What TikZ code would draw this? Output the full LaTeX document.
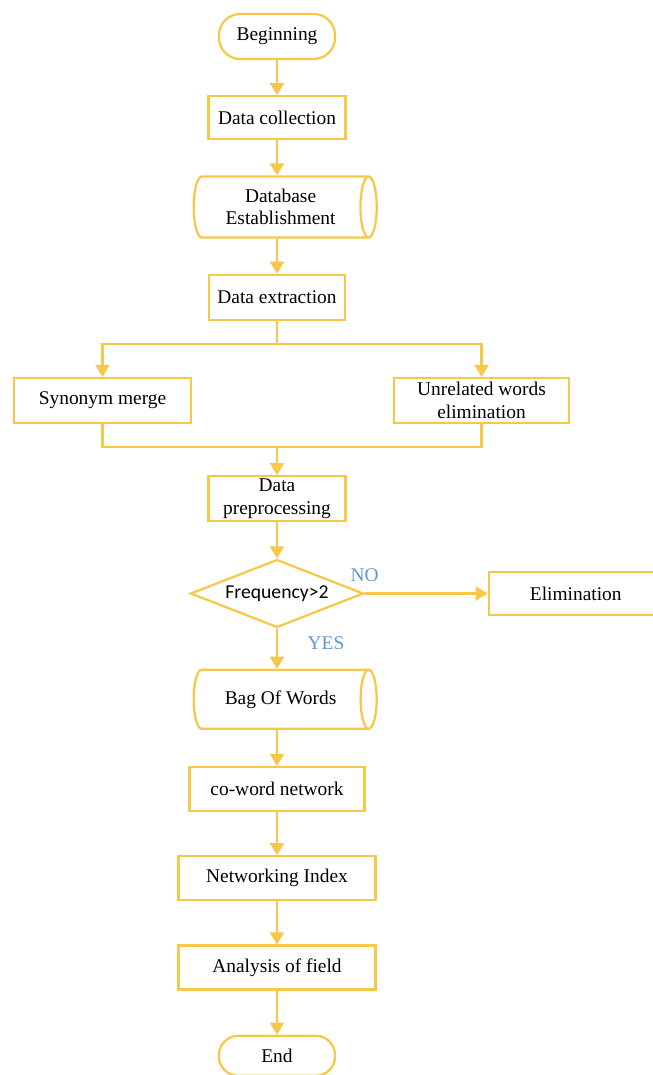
\documentclass[tikz,border=0pt]{standalone}
\usepackage{fontspec}
\setmainfont{Liberation Serif}
\newfontfamily\calfont{Carlito}
\usetikzlibrary{positioning,arrows.meta,shapes.geometric}
\definecolor{flowgold}{RGB}{246,200,72}
\definecolor{flowblue}{RGB}{96,152,205}

\begin{document}
\begin{tikzpicture}[node distance=0.875cm,
  every node/.style={font=\fontsize{13.8}{16}\selectfont},
  box/.style={rectangle,draw=flowgold,line width=1.6pt,inner sep=0pt,align=center,minimum height=1.125cm},
  term/.style={box,rounded corners=0.53cm,minimum width=2.9cm},
  store/.style={cylinder,draw=flowgold,line width=1.6pt,inner sep=0pt,align=center,minimum height=4.575cm},
  decide/.style={diamond,draw=flowgold,line width=1.6pt,inner sep=0pt,aspect=2.5,minimum width=4.325cm,minimum height=1.7cm,font=\calfont\fontsize{14}{16}\selectfont},
  arr/.style={draw=flowgold,line width=1.6pt,-{Triangle[width=0.35cm,length=0.3cm]}},
  link/.style={draw=flowgold,line width=1.6pt},
  lbl/.style={text=flowblue,inner sep=0pt}]
  \useasboundingbox (0,0) rectangle (16.3,-26.875);
  % main column
  \node[term] (begin) at (6.925,-0.9125) {Beginning};
  \node[box,below=of begin,minimum width=3.425cm,minimum height=1.075cm] (collect) {Data collection};
  \node[store,below=of collect,minimum width=1.525cm,aspect=0.45,xshift=0.09cm] (dbase) {Database\\Establishment};
  \node[box,below=of dbase.south -| collect,minimum width=3.4cm] (extract) {Data extraction};
  \coordinate[below=0.575cm of extract] (split);
  \node[box,below=1.4cm of extract,xshift=-4.3625cm,minimum width=4.425cm] (synonym) {Synonym merge};
  \node[box,below=1.4cm of extract,xshift=5.1125cm,minimum width=4.375cm] (unrelated) {Unrelated words\\elimination};
  \coordinate[below=0.575cm of synonym.south -| extract] (merge);
  \node[box,below=0.7cm of merge,minimum width=3.425cm] (preproc) {Data\\preprocessing};
  \node[decide,below=0.9cm of preproc] (freq) {Frequency>2};
  \node[box,right=3.075cm of freq,minimum width=4.35cm,minimum height=1.075cm] (elim) {Elimination};
  \node[lbl,above=0.28cm of freq.east] (no) {NO};
  \node[lbl,below=0.2cm of freq.south,xshift=1.225cm] (yes) {YES};
  \node[store,below=1cm of freq,minimum width=1.475cm,aspect=0.9,xshift=0.09cm] (bag) {Bag Of Words};
  \node[box,below=0.9cm of bag.south -| freq,minimum width=4.375cm,minimum height=1.1cm] (coword) {co-word network};
  \node[box,below=1.075cm of coword,minimum width=4.925cm,minimum height=1.1cm] (netidx) {Networking Index};
  \node[box,below=1.075cm of netidx,minimum width=4.925cm,minimum height=1.1cm] (analysis) {Analysis of field};
  \node[term,below=1.1cm of analysis,minimum height=1cm,rounded corners=0.48cm] (end) {End};
  % connectors
  \draw[arr] (begin) -- (collect);
  \draw[arr] (collect.south) -- (collect.south |- dbase.north);
  \draw[arr] (collect.south |- dbase.south) -- (extract.north);
  \draw[link] (extract) -- (split);
  \draw[arr] (split) -| (synonym);
  \draw[arr] (split) -| (unrelated);
  \draw[link] (synonym) |- (merge);
  \draw[link] (unrelated) |- (merge);
  \draw[arr] (merge) -- (preproc);
  \draw[arr] (preproc) -- (freq);
  \draw[arr] (freq) -- (elim);
  \draw[arr] (freq.south) -- (freq.south |- bag.north);
  \draw[arr] (freq.south |- bag.south) -- (coword.north);
  \draw[arr] (coword) -- (netidx);
  \draw[arr] (netidx) -- (analysis);
  \draw[arr] (analysis) -- (end);
\end{tikzpicture}
\end{document}
